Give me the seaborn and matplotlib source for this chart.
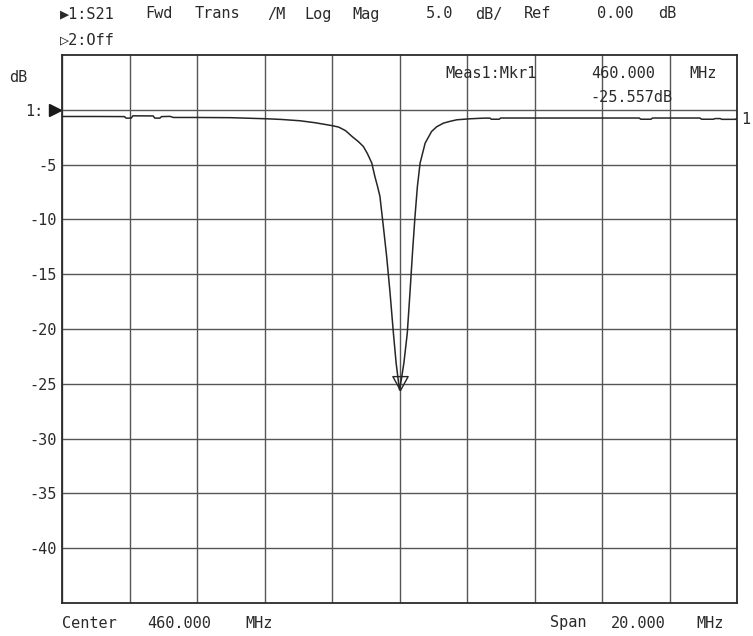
import re
import numpy as np
import pandas as pd
import matplotlib
matplotlib.use("Agg")
import matplotlib.pyplot as plt
from matplotlib.path import Path
from matplotlib.transforms import blended_transform_factory
import seaborn as sns

# ---------------- data ----------------
freq_mhz = [450.0, 451.0, 451.85, 451.9, 452.05, 452.1, 452.7, 452.75, 452.9, 452.95,
            453.2, 453.3, 454.0, 455.0, 456.07, 456.5, 457.05, 457.5, 458.03, 458.2,
            458.4, 458.6, 458.78, 458.93, 459.05, 459.18, 459.27, 459.35, 459.42, 459.52,
            459.62, 459.72, 459.82, 459.90, 459.96, 460.0, 460.06, 460.13, 460.23, 460.31,
            460.39, 460.46, 460.53, 460.61, 460.76, 460.95, 461.1, 461.30, 461.5, 461.70,
            462.09, 462.5, 462.68, 462.72, 462.95, 463.0, 467.1, 467.15, 467.45, 467.5,
            468.9, 468.95, 469.3, 469.35, 469.5, 469.55, 469.95, 470.0]
s21_db = [-0.61, -0.61, -0.62, -0.76, -0.76, -0.55, -0.56, -0.76, -0.76, -0.62,
          -0.60, -0.70, -0.70, -0.72, -0.82, -0.88, -1.00, -1.18, -1.46, -1.58,
          -1.90, -2.45, -2.90, -3.35, -4.00, -4.87, -6.08, -7.00, -7.90, -10.6,
          -13.4, -16.7, -20.4, -23.1, -24.6, -25.557, -24.5, -23.1, -20.4, -16.7,
          -12.8, -9.7, -7.0, -4.87, -3.04, -1.98, -1.55, -1.22, -1.05, -0.91,
          -0.82, -0.76, -0.76, -0.86, -0.86, -0.75, -0.75, -0.86, -0.86, -0.75,
          -0.75, -0.86, -0.86, -0.80, -0.80, -0.87, -0.87, -0.78]

marker_freq = 460.000
marker_db = -25.557
y_tick_values = [-40, -35, -30, -25, -20, -15, -10, -5, 0]
y_tick_labels = ["-40", "-35", "-30", "-25", "-20", "-15", "-10", "-5", ""]
x_tick_values = [450, 452, 454, 456, 458, 460, 462, 464, 466, 468, 470]

header_1 = "▶1:S21 Fwd Trans /M Log Mag   5.0 dB/ Ref   0.00 dB"
header_2 = "▷2:Off"
marker_line_1 = "Meas1:Mkr1  460.000 MHz"
marker_line_2 = "-25.557dB"
footer_left = "Center 460.000 MHz"
footer_right = "Span 20.000 MHz"

# ---------------- figure ----------------
W, H = 753, 636
sns.set_theme(style="white")
plt.rcParams["font.family"] = ["DejaVu Sans Mono", "DejaVu Sans"]

fig = plt.figure(figsize=(W / 100, H / 100), dpi=100)
ax = fig.add_axes([62 / W, 33 / H, 675 / W, 548 / H])

df = pd.DataFrame({"freq": freq_mhz, "db": s21_db})
sns.lineplot(data=df, x="freq", y="db", ax=ax, color="#262626", linewidth=1.1,
             estimator=None, sort=False, zorder=5)

ax.set_xlim(450, 470)
ax.set_ylim(-45, 5)
ax.set_xticks(x_tick_values)
ax.set_xticklabels([])
ax.set_yticks(y_tick_values)
ax.set_yticklabels(y_tick_labels)
ax.tick_params(axis="both", length=0)
ax.tick_params(axis="y", pad=4, labelsize=11, labelcolor="#2a2a2a")
ax.set_xlabel("")
ax.set_ylabel("")
ax.grid(True, color="#555555", linewidth=1.0)
for sp in ax.spines.values():
    sp.set_color("#2a2a2a")
    sp.set_linewidth(1.3)
    sp.set_visible(True)

# marker (open triangle with apex at the point)
tri = Path([(-0.55, 1.0), (0.55, 1.0), (0.0, 0.0), (-0.55, 1.0)],
           [Path.MOVETO, Path.LINETO, Path.LINETO, Path.CLOSEPOLY])
ax.plot([marker_freq], [marker_db], marker=tri, markersize=20, markerfacecolor="none",
        markeredgecolor="#262626", markeredgewidth=1.0, linestyle="none", zorder=6)

# reference-position indicator at 0 dB
trans = blended_transform_factory(ax.transAxes, ax.transData)
ax.plot([-0.0105], [0], marker=">", markersize=8.6, color="#1a1a1a",
        transform=trans, clip_on=False, linestyle="none")

TXT = dict(color="#2a2a2a", fontsize=11, va="center")


def mono(s, x0, y, cell=12.2, **kw):
    for m in re.finditer(r"\S+", s):
        fig.text((x0 + m.start() * cell) / W, 1 - y / H, m.group(), ha="left",
                 **{**TXT, **kw})


mono(header_1, 60, 14)
mono(header_2, 60, 40)
fig.text(9 / W, 1 - 78 / H, "dB", ha="left", **TXT)
fig.text(25 / W, 1 - 111 / H, "1:", ha="left", **TXT)
mono(marker_line_1, 445, 74)
mono(marker_line_2, 590, 97)
mono(footer_left, 62, 623)
mono(footer_right, 550, 623)
fig.text(741 / W, 1 - 120 / H, "1", ha="left", **TXT)

fig.savefig("out.png", dpi=100, facecolor="white")
